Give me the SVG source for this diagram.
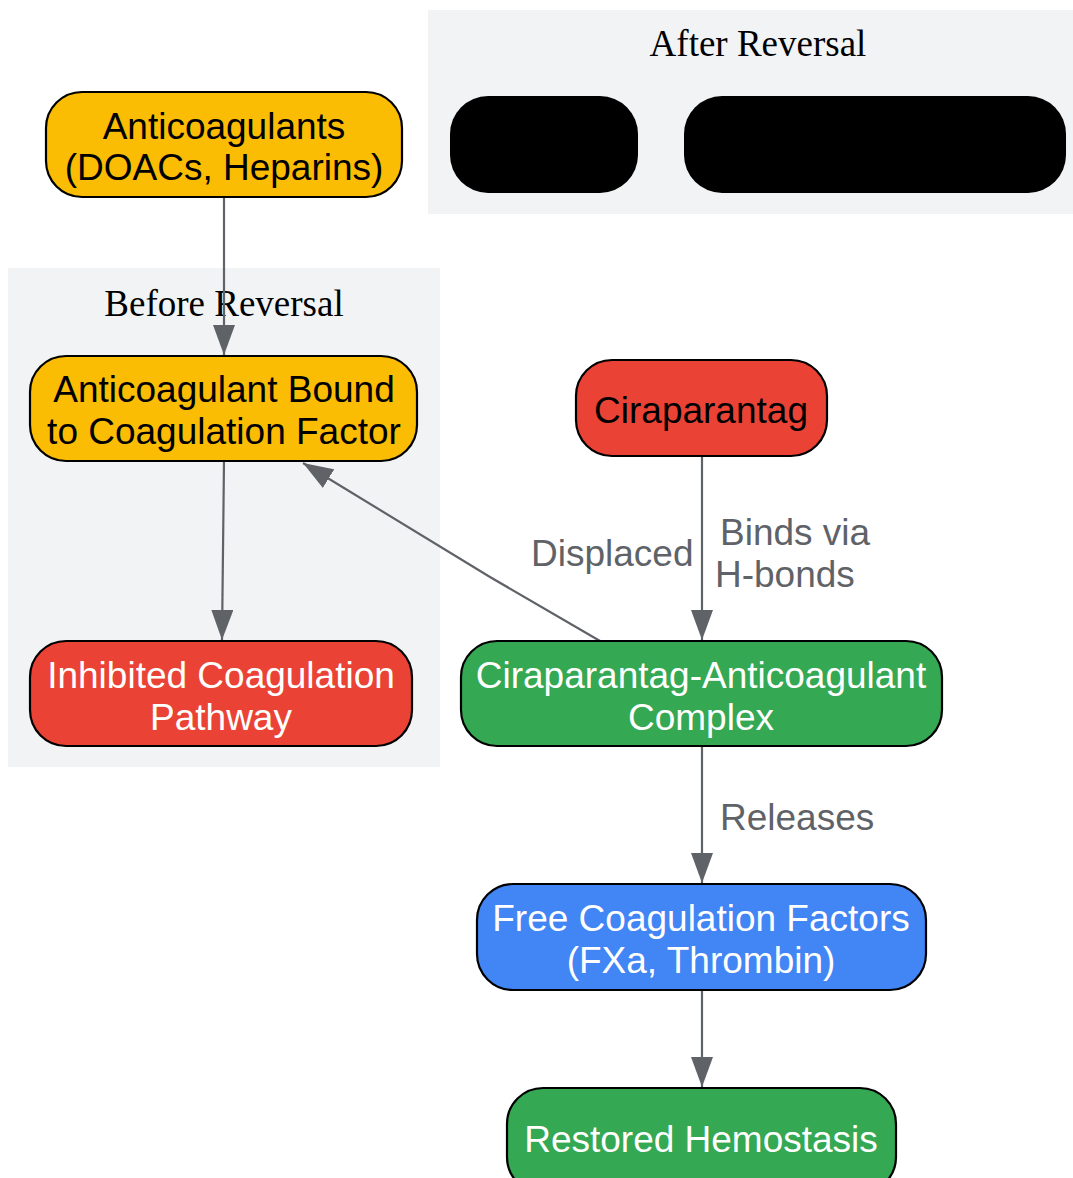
<svg xmlns="http://www.w3.org/2000/svg" width="1073" height="1178" viewBox="0 0 1073 1178">
<style>
.cluster{fill:#f1f3f5;stroke:none}
.ctitle{font-family:"Liberation Serif",serif;font-size:37px;fill:#000;text-anchor:middle}
.node{stroke:#000;stroke-width:2.2}
.t{font-family:"Liberation Sans",Arial,sans-serif;font-size:37px;text-anchor:middle}
.dark{fill:#000}
.light{fill:#fff}
.edge{fill:none;stroke:#5f6368;stroke-width:2.2}
.elabel{font-family:"Liberation Sans",Arial,sans-serif;font-size:37px;fill:#5f6368}
</style>
<defs>
<marker id="arrow" viewBox="0 0 30 22" refX="30" refY="11" markerWidth="30" markerHeight="22" markerUnits="userSpaceOnUse" orient="auto">
<path d="M0,0 L30,11 L0,22 Z" fill="#5f6368"/>
</marker>
</defs>
<g id="cluster-after">
<rect class="cluster" x="428" y="10" width="645" height="204"/>
<text class="ctitle" x="758" y="56">After Reversal</text>
</g>
<g id="cluster-before">
<rect class="cluster" x="8" y="268" width="432" height="499"/>
<text class="ctitle" x="224" y="316">Before Reversal</text>
</g>
<g id="node-hidden1"><rect x="450" y="96" width="188" height="97" rx="38" fill="#000"/></g>
<g id="node-hidden2"><rect x="684" y="96" width="382" height="97" rx="38" fill="#000"/></g>
<g id="connectors">
<path class="edge" d="M224,197 L224,355" marker-end="url(#arrow)"/>
<path class="edge" d="M224,461 L222,640" marker-end="url(#arrow)"/>
<path class="edge" d="M702,456 L702,640" marker-end="url(#arrow)"/>
<path class="edge" d="M600,641 L490,577 L303,463" marker-end="url(#arrow)"/>
<path class="edge" d="M702,746 L702,883" marker-end="url(#arrow)"/>
<path class="edge" d="M702,990 L702,1087" marker-end="url(#arrow)"/>
<text class="elabel" x="720" y="545">Binds via</text>
<text class="elabel" x="715" y="587">H-bonds</text>
<text class="elabel" x="531" y="566">Displaced</text>
<text class="elabel" x="720" y="830">Releases</text>
</g>
<g id="node-anticoagulants">
<rect class="node" x="46" y="92" width="356" height="105" rx="36" fill="#fbbc04"/>
<text class="t dark" x="224" y="139">Anticoagulants</text>
<text class="t dark" x="224" y="180">(DOACs, Heparins)</text>
</g>
<g id="node-bound">
<rect class="node" x="30" y="356" width="387" height="105" rx="36" fill="#fbbc04"/>
<text class="t dark" x="224" y="402">Anticoagulant Bound</text>
<text class="t dark" x="224" y="444">to Coagulation Factor</text>
</g>
<g id="node-inhibited">
<rect class="node" x="30" y="641" width="382" height="105" rx="36" fill="#ea4335"/>
<text class="t light" x="221" y="688">Inhibited Coagulation</text>
<text class="t light" x="221" y="730">Pathway</text>
</g>
<g id="node-ciraparantag">
<rect class="node" x="576" y="360" width="251" height="96" rx="36" fill="#ea4335"/>
<text class="t dark" x="701" y="423">Ciraparantag</text>
</g>
<g id="node-complex">
<rect class="node" x="461" y="641" width="481" height="105" rx="36" fill="#34a853"/>
<text class="t light" x="701" y="688">Ciraparantag-Anticoagulant</text>
<text class="t light" x="701" y="730">Complex</text>
</g>
<g id="node-free">
<rect class="node" x="477" y="884" width="449" height="106" rx="36" fill="#4285f4"/>
<text class="t light" x="701" y="931">Free Coagulation Factors</text>
<text class="t light" x="701" y="973">(FXa, Thrombin)</text>
</g>
<g id="node-restored">
<rect class="node" x="507" y="1088" width="389" height="105" rx="36" fill="#34a853"/>
<text class="t light" x="701" y="1152">Restored Hemostasis</text>
</g>
</svg>
